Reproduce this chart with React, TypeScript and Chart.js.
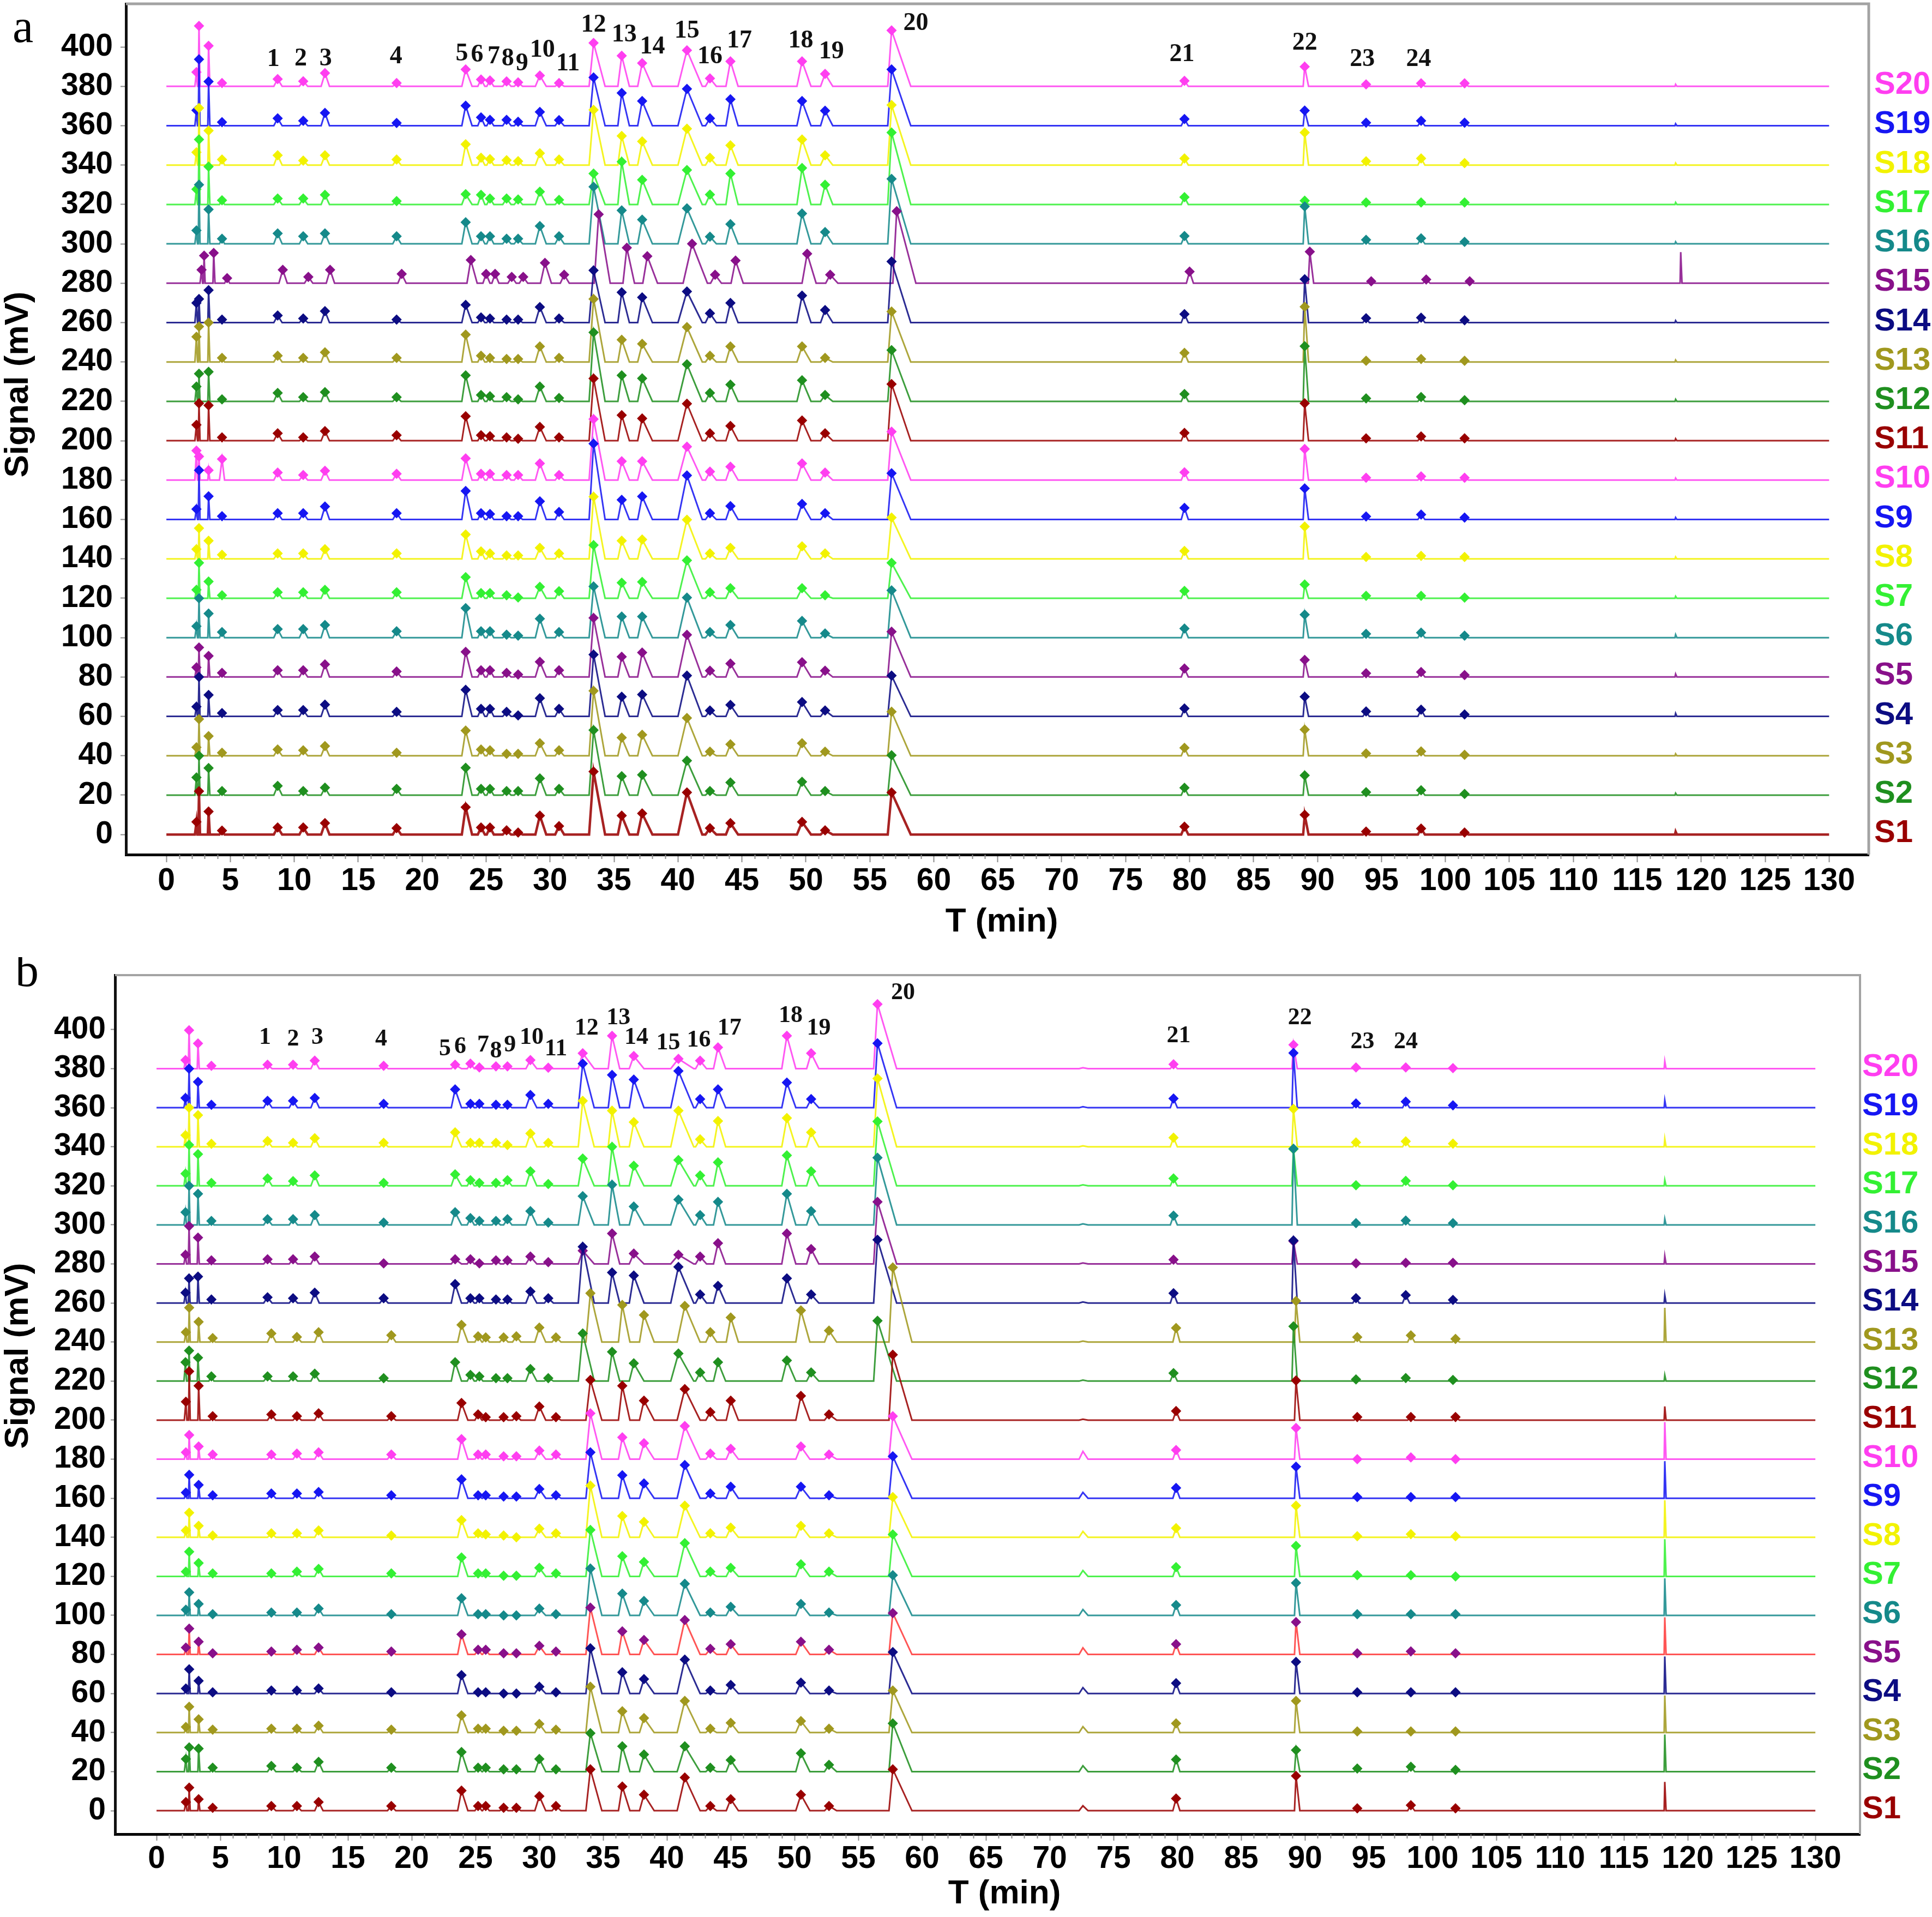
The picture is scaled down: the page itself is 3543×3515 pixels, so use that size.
import React, { useEffect, useRef } from "react";
import { Chart, registerables } from "chart.js";

Chart.register(...registerables);

// ---------------- shared labels / ticks ----------------
const SERIES_NAMES = ["S1", "S2", "S3", "S4", "S5", "S6", "S7", "S8", "S9", "S10", "S11", "S12", "S13", "S14", "S15", "S16", "S17", "S18", "S19", "S20"];
const BASE_OFFSETS = [0, 20, 40, 60, 80, 100, 120, 140, 160, 180, 200, 220, 240, 260, 280, 300, 320, 340, 360, 380];
const PEAK_NAMES = ["1", "2", "3", "4", "5", "6", "7", "8", "9", "10", "11", "12", "13", "14", "15", "16", "17", "18", "19", "20", "21", "22", "23", "24"];
const X_TICKS = [0, 5, 10, 15, 20, 25, 30, 35, 40, 45, 50, 55, 60, 65, 70, 75, 80, 85, 90, 95, 100, 105, 110, 115, 120, 125, 130];
const Y_TICKS = [0, 20, 40, 60, 80, 100, 120, 140, 160, 180, 200, 220, 240, 260, 280, 300, 320, 340, 360, 380, 400];

// ---------------- panel a : peaks (min) ----------------
// order: 4 early peaks, peaks 1..24, extra peak ~101.5, spike ~118
const peakTimesA = [2.35, 2.55, 3.3, 4.35, 8.7, 10.7, 12.4, 18.0, 23.4, 24.6, 25.3, 26.6, 27.5, 29.2, 30.7, 33.4, 35.6, 37.2, 40.7, 42.5, 44.1, 49.7, 51.5, 56.7, 79.6, 89.0, 93.8, 98.1, 101.5, 118.0];
const peakLeftA = [0.12, 0.06, 0.06, 0.2, 0.3, 0.3, 0.3, 0.3, 0.3, 0.25, 0.25, 0.3, 0.3, 0.35, 0.3, 0.35, 0.3, 0.35, 0.7, 0.35, 0.35, 0.4, 0.35, 0.3, 0.25, 0.12, 0.25, 0.25, 0.25, 0.05];
const peakRightA = [0.08, 0.08, 0.1, 0.2, 0.35, 0.35, 0.35, 0.35, 0.5, 0.3, 0.3, 0.35, 0.35, 0.5, 0.4, 0.9, 0.6, 0.8, 1.2, 0.5, 0.6, 0.7, 0.6, 1.5, 0.3, 0.3, 0.25, 0.3, 0.3, 0.1];
const peakMarkedA = [1, 1, 1, 1, 1, 1, 1, 1, 1, 1, 1, 1, 1, 1, 1, 1, 1, 1, 1, 1, 1, 1, 1, 1, 1, 1, 1, 1, 1, 0];
const seriesShiftA = [0, 0, 0, 0, 0, 0, 0, 0, 0, 0, 0, 0, 0, 0, 0.4, 0, 0, 0, 0, 0];

// heights (mV above each trace's baseline)
const hA_S1 = [6.4, 22, 11.7, 2, 3.6, 3.6, 5.8, 3.2, 13.9, 3.6, 3.6, 2.1, 1, 9.6, 4.3, 32, 9.6, 10.7, 21.4, 3.2, 5.8, 6.4, 2.1, 21.4, 4, 10, 1.5, 3, 1, 1.5];
const hA_S2 = [9, 20, 13.8, 2.1, 4.7, 2.1, 3.8, 3.2, 13.9, 3.2, 3.2, 2.1, 2.1, 8.5, 3.2, 33, 9.6, 10.3, 17.5, 2.1, 6.4, 6.8, 2.1, 20.3, 3.7, 10, 1.5, 2.5, 0.6, 1];
const hA_S3 = [4.3, 18.6, 10, 1.5, 3.2, 2.8, 4.9, 1.5, 12.8, 3.2, 2.8, 1, 1, 6.4, 2.8, 33, 9.2, 10.7, 19.2, 2.1, 5.8, 6.4, 2.1, 22.4, 4, 13.3, 1.2, 2.2, 0.5, 1];
const hA_S4 = [4.9, 20, 10.9, 1.7, 3.2, 3.2, 6, 2.3, 13.5, 3.8, 3.8, 2.3, 0.5, 9.2, 3.8, 31.4, 10, 11.1, 20.7, 3, 5.8, 7.3, 3, 20.7, 4, 10, 2.5, 3.4, 1, 1.5];
const hA_S5 = [4.9, 15, 10.7, 2.1, 3.4, 3.4, 6.4, 2.8, 12.8, 3.4, 3.4, 2.1, 1.3, 7.7, 3.4, 30, 10.3, 12.4, 21.4, 3.2, 6.8, 7.5, 3.2, 23, 4.3, 8.7, 1.9, 2.5, 1, 1.5];
const hA_S6 = [5.8, 20, 12.2, 2.8, 4.3, 4.3, 6.4, 3.2, 15, 3.2, 3.2, 1.5, 1, 9.6, 2.8, 26, 10.7, 10.7, 20.3, 2.8, 6.4, 8.5, 2.1, 24, 4.6, 11.7, 1.9, 2.5, 1, 1.5];
const hA_S7 = [4.3, 18, 8.5, 1.5, 3, 3, 4.3, 3, 10.7, 2.6, 2.6, 1.5, 0.4, 5.8, 3.6, 27, 7.9, 8.3, 19.2, 3, 5.1, 5.1, 1.5, 18, 3.7, 7, 1.2, 1.2, 0.3, 1];
const hA_S8 = [4.9, 15.6, 9.2, 2.1, 2.8, 2.8, 4.9, 2.8, 12.4, 3.8, 2.8, 1.7, 1.7, 5.6, 2.8, 31.6, 9.2, 9.8, 19.9, 2.8, 5.6, 6.4, 2.8, 21, 4, 16.4, 1, 1.5, 1, 1];
const hA_S9 = [5.3, 25, 11.8, 1.7, 3.2, 3.2, 6.6, 3.2, 14.5, 3.2, 2.8, 1.7, 1.7, 9.2, 3.8, 38.5, 10, 11.7, 22.4, 3.2, 6.8, 7.9, 3.2, 23.5, 5.9, 15.8, 1.5, 2.5, 1, 1];
const hA_S10 = [15, 12, 5, 10.7, 3.8, 2.6, 4.7, 3.2, 11, 3.2, 3.2, 2.6, 2.6, 8.5, 2.6, 31, 9.6, 9.6, 17, 4.3, 6.8, 8.5, 3.8, 24.6, 4, 15.8, 1.2, 1.9, 1.2, 1];
const hA_S11 = [8.1, 19, 18, 1.7, 3.8, 1.7, 4.9, 2.8, 12.4, 2.8, 2.3, 1.7, 1, 7, 1.7, 31.6, 13, 11.3, 18.8, 3.8, 7.5, 10.3, 3.8, 28.8, 4, 19, 1.2, 2.2, 1.2, 1];
const hA_S12 = [7.5, 14, 15, 1, 4.3, 2.1, 4.7, 2.1, 13.2, 3.2, 2.6, 2.1, 1, 7.5, 1.7, 35, 13.2, 11.7, 18.8, 4.3, 8.5, 10.7, 3.2, 26, 3.7, 28, 1.5, 2.2, 0.6, 1];
const hA_S13 = [12.8, 18, 20, 2.1, 3.2, 2.1, 4.9, 2.1, 13.9, 3.2, 2.1, 1.5, 1.5, 7.9, 2.1, 32, 11.3, 9.2, 17.7, 3.2, 7.9, 7.9, 2.1, 25.6, 4.6, 28, 0.6, 1.5, 0.6, 1];
const hA_S14 = [10, 12, 16.5, 1.5, 3.6, 2.1, 5.8, 1.5, 9, 2.6, 2.1, 1.5, 1.5, 7.9, 2.1, 26.5, 15.4, 12.8, 15.8, 4.7, 10, 13.7, 6.4, 31, 4.3, 22, 2.2, 2.5, 1.2, 1];
const hA_S15 = [6.8, 14, 15.4, 2.6, 6.8, 3.2, 6.8, 4.7, 11.8, 4.7, 4.7, 3.2, 3.2, 10.3, 4.3, 35, 18, 13.7, 20, 4.3, 11.5, 15, 4.3, 36.6, 5.9, 16, 1, 1.9, 1, 15.8];
const hA_S16 = [6.8, 30, 17.5, 2.6, 5.3, 3.8, 5.3, 3.8, 11, 3.8, 3.8, 2.6, 2.6, 9, 3.8, 29, 17, 12.3, 18, 3.6, 10, 15.4, 6, 33, 4, 19, 2, 2.8, 1, 1];
const hA_S17 = [7.7, 33, 19.2, 2.1, 3, 3, 4.9, 1.7, 5.2, 4.9, 3, 3, 2.5, 6.5, 2.3, 15.7, 21.7, 12.5, 17.5, 5, 15.7, 18.5, 10, 36.5, 3.7, 1.9, 1, 1, 1, 1];
const hA_S18 = [6.5, 29, 17.5, 2.8, 5, 2.3, 5, 2.8, 10.6, 3.7, 3, 2.5, 2, 6, 2.8, 28, 14.8, 12, 18.5, 3.7, 10, 13, 5, 30.5, 3.4, 16.5, 1.9, 3.4, 1, 1];
const hA_S19 = [7.8, 33.7, 22.4, 1.8, 3.7, 2.5, 6.5, 1.4, 10.2, 4.2, 3, 3, 2, 7, 2.8, 24.5, 16.6, 12.5, 18.7, 3.7, 13.4, 12.5, 7.6, 28.6, 3.4, 7.7, 1.5, 2.5, 1.5, 1];
const hA_S20 = [7.2, 30.7, 20.6, 1.7, 3.7, 2.6, 6.7, 1.7, 8.6, 3.5, 3, 2.5, 2, 5.5, 1.7, 22, 15.5, 11.8, 18.3, 4, 12.7, 12.7, 6.3, 28.4, 2.8, 10, 1, 1.5, 1.5, 1];

const labelTimeA = [8.36, 10.5, 12.45, 17.95, 23.1, 24.3, 25.6, 26.7, 27.8, 29.4, 31.4, 33.4, 35.8, 38.0, 40.7, 42.5, 44.8, 49.6, 52.0, 58.6, 79.4, 89.0, 93.5, 97.9];
const labelLevelA = [393.5, 394, 394, 395, 396.4, 395.8, 395.1, 393.8, 391.3, 398.2, 391.4, 411, 406, 400, 408, 395, 403, 403, 397.5, 412, 396, 402, 393.6, 393.6];

// ---------------- panel b : peaks (min) ----------------
// order: 4 early peaks, peaks 1..20, bump ~72.6, peaks 21..24, extra ~101.6, spike ~118.2
const peakTimesBUpper = [2.27, 2.55, 3.25, 4.3, 8.7, 10.7, 12.4, 17.8, 23.4, 24.6, 25.3, 26.6, 27.5, 29.3, 30.7, 33.4, 35.7, 37.4, 40.9, 42.6, 44.0, 49.4, 51.3, 56.5, 72.6, 79.7, 89.1, 94.0, 97.9, 101.6, 118.2];
const peakTimesBLower = [2.3, 2.56, 3.3, 4.4, 9.0, 11.0, 12.7, 18.4, 23.9, 25.2, 25.8, 27.2, 28.2, 30.0, 31.3, 34.0, 36.5, 38.2, 41.4, 43.4, 45.0, 50.5, 52.7, 57.7, 72.6, 79.9, 89.3, 94.1, 98.3, 101.8, 118.2];
const seriesGroupB = [0, 0, 0, 0, 0, 0, 0, 0, 0, 0, 0, 1, 0, 1, 1, 1, 1, 1, 1, 1];
const peakLeftB = [0.12, 0.06, 0.06, 0.2, 0.3, 0.3, 0.3, 0.3, 0.3, 0.25, 0.25, 0.3, 0.3, 0.35, 0.3, 0.35, 0.3, 0.35, 0.6, 0.35, 0.35, 0.4, 0.35, 0.3, 0.3, 0.25, 0.12, 0.25, 0.25, 0.25, 0.05];
const peakRightB = [0.08, 0.08, 0.1, 0.2, 0.35, 0.35, 0.35, 0.35, 0.5, 0.3, 0.28, 0.35, 0.35, 0.5, 0.4, 0.9, 0.6, 0.8, 1.2, 0.5, 0.6, 0.7, 0.6, 1.5, 0.4, 0.3, 0.3, 0.25, 0.3, 0.3, 0.1];
const peakMarkedB = [1, 1, 1, 1, 1, 1, 1, 1, 1, 1, 1, 1, 1, 1, 1, 1, 1, 1, 1, 1, 1, 1, 1, 1, 0, 1, 1, 1, 1, 1, 0];

const hB_S1 = [4.4, 11.8, 5.9, 1.5, 2.4, 2.4, 4.4, 2.4, 10.3, 2.4, 2.4, 1.5, 1.5, 7.4, 2.4, 21.2, 12.4, 8.2, 17, 2.4, 5.9, 8.2, 2.4, 21.2, 2.5, 6.2, 17.8, 1.2, 2.8, 1.2, 14.7];
const hB_S2 = [6.5, 12.4, 11.8, 2, 2.9, 2, 5, 2, 10, 2, 2, 1.2, 1.2, 6.5, 1.2, 19.7, 13, 8.8, 13, 2, 5.9, 9.4, 3.5, 24.7, 3, 6.2, 11, 1.6, 2.5, 0.9, 19];
const hB_S3 = [2.9, 13.2, 6.8, 1.5, 2, 2, 3.5, 1.5, 8.8, 2, 2, 0.9, 0.9, 4.4, 1.5, 23.5, 10.9, 7.4, 16.2, 2, 5, 5.9, 2, 21.5, 3, 4.7, 16.2, 0.6, 0.6, 0.6, 19];
const hB_S4 = [2.6, 12.4, 6.5, 0.6, 1.5, 1.5, 2.6, 0.6, 9.4, 0.6, 0.6, 0, 0, 3.5, 0.6, 23.2, 10.9, 7.4, 17.4, 1.5, 4.4, 5.6, 1.5, 21.2, 3, 5.3, 16.2, 0.6, 0.6, 0.6, 19];
const hB_S5 = [3.5, 13.2, 6.5, 0.6, 1.5, 2.4, 3.5, 1.5, 10.3, 2.4, 2.4, 0.6, 0.6, 4.4, 1.5, 24, 11.8, 7.4, 17.6, 2.9, 5.3, 6.5, 2.4, 21.2, 3.4, 5.3, 16.6, 0.6, 1.6, 0.6, 19];
const hB_S6 = [2.9, 11.8, 5.9, 0.6, 1.5, 1.5, 3.5, 0.6, 8.8, 0.6, 0.6, 0, 0, 3.5, 0.6, 24, 11.2, 7.4, 16.2, 1.5, 4.4, 5.9, 1.5, 20.6, 3, 5.3, 16.6, 0.6, 0.6, 0.6, 19];
const hB_S7 = [2.4, 12.6, 6.8, 1.5, 1.5, 2.4, 3.8, 1.5, 9.7, 1.5, 1.5, 0.3, 0.3, 4.4, 1.5, 23.8, 10.3, 7.4, 17, 2.4, 4.4, 6.2, 2.4, 21.5, 3, 4.7, 15.6, 0.6, 0.6, 0, 19];
const hB_S8 = [3.5, 12.6, 5.9, 0.9, 2, 2, 3.5, 0.9, 8.8, 2, 1.5, 0.9, 0, 4.4, 2, 26.5, 10.9, 7.9, 16.2, 2, 5, 5.9, 2, 20.6, 3, 4.7, 16.2, 0.6, 1.6, 0.6, 19];
const hB_S9 = [2.9, 12, 6.8, 1.5, 2.4, 2.4, 3.2, 1.5, 9.7, 1.5, 1.5, 0.9, 0.9, 4.7, 1.5, 23.5, 11.8, 7.6, 17, 2.4, 5.9, 5.9, 1.5, 21.5, 3, 5.3, 16.2, 0.6, 0.6, 0.6, 19];
const hB_S10 = [3.5, 12.4, 6.5, 2.4, 2.4, 2.9, 3.5, 2.4, 10.3, 2.4, 2.4, 1.5, 1.5, 4.4, 2.4, 23.5, 11.2, 8.2, 17, 2.9, 5.3, 6.5, 2.4, 22, 4, 4.7, 16, 0, 0.9, 0, 19];
const hB_S11 = [9.4, 25, 17.6, 2, 2.9, 2, 3.5, 2, 8.8, 2.9, 1.5, 1.5, 2, 7, 1.5, 20.6, 17.6, 10, 15.9, 4.1, 10, 12.4, 2.9, 33.5, 0.5, 4.7, 20.3, 1.6, 1.6, 1.6, 7];
const hB_S12 = [9.7, 15.6, 12, 2.4, 2.4, 2.4, 3.8, 1.5, 9.7, 3.2, 2.4, 1.5, 1.5, 6.2, 1.5, 24.4, 15, 9.1, 14.1, 4.4, 9.7, 10.6, 4.4, 30.9, 0.5, 4.1, 28, 0.9, 1.6, 0.6, 3];
const hB_S13 = [5, 17.6, 10.3, 2, 4.4, 2.6, 5, 3.5, 8.8, 2.9, 2.4, 2.4, 2.9, 7.4, 2.4, 25, 19, 13.8, 18.5, 5, 12.6, 16.2, 5.9, 38.2, 0.5, 7.2, 21, 2.5, 3.4, 1.6, 17.5];
const hB_S14 = [5.3, 12.6, 13.5, 1.8, 2.9, 2.4, 5.3, 2.4, 9.7, 2.4, 2.4, 1.8, 1.8, 5.9, 2.4, 28.8, 15.6, 14.1, 18.5, 4.4, 8.8, 12.6, 4.4, 32.4, 0.5, 5, 32, 2.5, 4, 1.6, 4];
const hB_S15 = [4.7, 19.4, 13.5, 1.8, 2.4, 2.4, 3.8, 0.3, 2.4, 2.4, 0.3, 1.8, 1.8, 3.8, 0.9, 6.8, 15.6, 5.3, 4.7, 3.8, 10.6, 15.6, 7.6, 31.8, 0.5, 2.2, 11.6, 0.3, 0.6, 0.6, 4];
const hB_S16 = [6.5, 20, 15.9, 2, 2.9, 2.9, 5, 1.2, 6.5, 3.5, 2, 2, 2.9, 7, 1.2, 14.7, 20.6, 9.4, 13, 5, 11.8, 15.9, 7, 34.4, 0.5, 4.7, 39, 0.9, 2.2, 0.9, 3];
const hB_S17 = [6.2, 21, 16.2, 1.5, 3.8, 2.4, 5.3, 1.5, 5.9, 2.9, 1.5, 1.5, 2.9, 7.4, 0.9, 14, 20, 10.3, 13.2, 5.3, 12, 15.6, 7.4, 33, 0.5, 3.8, 18.8, 0.3, 2.5, 0.3, 3];
const hB_S18 = [5.9, 20, 16.2, 1.5, 2.9, 2, 4.4, 2, 7.4, 2, 2, 2, 0.9, 6.8, 2, 23.5, 18.5, 12.6, 18.5, 3.8, 13.2, 14.7, 7.4, 35, 0.5, 4.7, 19.4, 2.2, 2.8, 1.6, 4];
const hB_S19 = [5, 20, 13.2, 1.5, 3.5, 3.5, 5, 2, 9.4, 2, 2, 1.5, 1.5, 6.5, 2, 22.6, 16.8, 14.4, 18.8, 4.4, 9.4, 12.9, 4.4, 33, 0.5, 4.7, 28, 2.2, 3.1, 1.2, 3.8];
const hB_S20 = [4.4, 19.7, 12.9, 1.5, 2, 2, 4.1, 1.5, 2, 2.6, 0.6, 1.2, 1.2, 4.4, 0.5, 7.9, 16.8, 6.5, 5, 4.1, 10.9, 16.8, 7.9, 33, 0.5, 2.2, 12.2, 0.6, 0.6, 0.3, 3.8];

const labelTimeB = [8.5, 10.7, 12.6, 17.6, 22.6, 23.8, 25.6, 26.6, 27.7, 29.4, 31.3, 33.7, 36.2, 37.6, 40.1, 42.5, 44.9, 49.7, 51.9, 58.5, 80.1, 89.6, 94.5, 97.9];
const labelLevelB = [396, 395, 396, 395, 390, 391, 392, 389, 392, 396, 390, 400.6, 406, 396, 393, 394.6, 400.6, 407, 400.6, 418.7, 396.6, 406, 393.6, 393.6];

// ---------------- styles ----------------
const PALETTE = ["#990000", "#1F8F1F", "#A0981E", "#0C0C82", "#88108A", "#15898A", "#33F033", "#F2F200", "#1616F2", "#FF3EF0"];
const MARKER_COLORS = PALETTE.concat(PALETTE);
const LINE_COLORS_A = MARKER_COLORS.map((c) => c + "DD");
const LINE_COLORS_B = MARKER_COLORS.map((c, i) => (i === 4 ? "#FF3B3BDD" : c + "DD"));

const HEIGHTS_A = [hA_S1, hA_S2, hA_S3, hA_S4, hA_S5, hA_S6, hA_S7, hA_S8, hA_S9, hA_S10, hA_S11, hA_S12, hA_S13, hA_S14, hA_S15, hA_S16, hA_S17, hA_S18, hA_S19, hA_S20];
const HEIGHTS_B = [hB_S1, hB_S2, hB_S3, hB_S4, hB_S5, hB_S6, hB_S7, hB_S8, hB_S9, hB_S10, hB_S11, hB_S12, hB_S13, hB_S14, hB_S15, hB_S16, hB_S17, hB_S18, hB_S19, hB_S20];

const SANS = '"Liberation Sans", Arial, sans-serif';
const SERIF = '"Liberation Serif", "Times New Roman", serif';

type Pt = { x: number; y: number; m: number };

function buildTrace(times: number[], wl: number[], wr: number[], marks: number[], heights: number[], base: number, shift: number): Pt[] {
  const n = times.length;
  const apex = times.map((t) => t + shift);
  const L = apex.map((t, i) => t - wl[i]);
  const R = apex.map((t, i) => t + wr[i]);
  for (let i = 0; i < n - 1; i++) {
    if (R[i] > L[i + 1]) {
      let m = (R[i] + L[i + 1]) / 2;
      m = Math.min(Math.max(m, apex[i] + 0.01), apex[i + 1] - 0.01);
      R[i] = m;
      L[i + 1] = m;
    }
  }
  const pts: Pt[] = [{ x: 0, y: base, m: 0 }];
  for (let i = 0; i < n; i++) {
    pts.push({ x: L[i], y: base, m: 0 });
    pts.push({ x: apex[i], y: base + heights[i], m: marks[i] });
    pts.push({ x: R[i], y: base, m: 0 });
  }
  pts.push({ x: 130, y: base, m: 0 });
  return pts;
}

type Spec = {
  letter: string;
  canvasH: number;
  heights: number[][];
  timesFor: (s: number) => number[];
  shifts: number[];
  wl: number[];
  wr: number[];
  marks: number[];
  lineColors: string[];
  labelT: number[];
  labelV: number[];
  xMin: number; xMax: number; yMin: number; yMax: number;
  padding: { left: number; top: number; right: number; bottom: number };
  yAxisW: number; xAxisH: number;
  yTickLen: number; yTickPad: number; xTickLen: number; xTickPad: number;
  frameW: number;
  legendX: number;
  peakFont: number;
  yTitle: [number, number];
  xTitle: [number, number];
  letterPos: [number, number];
  s1Width: number;
};

function decorPlugin(spec: Spec) {
  return {
    id: "decor" + spec.letter,
    afterDraw(chart: any) {
      const { ctx, chartArea: ca, scales } = chart;
      const x = scales.x;
      const y = scales.y;
      ctx.save();
      // gray frame (top + right)
      ctx.strokeStyle = "#a3a3a3";
      ctx.lineWidth = spec.frameW;
      ctx.beginPath();
      ctx.moveTo(ca.left, ca.top);
      ctx.lineTo(ca.right, ca.top);
      ctx.lineTo(ca.right, ca.bottom);
      ctx.stroke();
      // minor x ticks
      ctx.strokeStyle = "#8c8c8c";
      ctx.lineWidth = 2;
      for (let i = 0; i < X_TICKS.length - 1; i++) {
        const a = X_TICKS[i];
        const step = (X_TICKS[i + 1] - a) / 5;
        for (let k = 1; k < 5; k++) {
          const px = Math.round(x.getPixelForValue(a + k * step)) + 0.5;
          ctx.beginPath();
          ctx.moveTo(px, ca.bottom);
          ctx.lineTo(px, ca.bottom + 8);
          ctx.stroke();
        }
      }
      // peak numbers
      ctx.fillStyle = "#111";
      ctx.font = `bold ${spec.peakFont}px ${SERIF}`;
      ctx.textAlign = "center";
      ctx.textBaseline = "middle";
      PEAK_NAMES.forEach((name, i) => {
        ctx.fillText(name, x.getPixelForValue(spec.labelT[i]), y.getPixelForValue(spec.labelV[i]));
      });
      // series names on the right
      ctx.font = `bold 58px ${SANS}`;
      ctx.textAlign = "left";
      SERIES_NAMES.forEach((name, i) => {
        ctx.fillStyle = MARKER_COLORS[i];
        ctx.fillText(name, spec.legendX, y.getPixelForValue(BASE_OFFSETS[i]) - 2);
      });
      // axis titles
      ctx.fillStyle = "#000";
      ctx.font = `bold 62px ${SANS}`;
      ctx.textAlign = "center";
      ctx.textBaseline = "middle";
      ctx.fillText("T (min)", spec.xTitle[0], spec.xTitle[1]);
      ctx.save();
      ctx.translate(spec.yTitle[0], spec.yTitle[1]);
      ctx.rotate(-Math.PI / 2);
      ctx.fillText("Signal (mV)", 0, 0);
      ctx.restore();
      // panel letter
      ctx.font = `86px ${SERIF}`;
      ctx.textAlign = "left";
      ctx.textBaseline = "alphabetic";
      ctx.fillText(spec.letter, spec.letterPos[0], spec.letterPos[1]);
      ctx.restore();
    },
  };
}

function Panel({ spec }: { spec: Spec }) {
  const ref = useRef<HTMLCanvasElement | null>(null);
  useEffect(() => {
    const canvas = ref.current;
    if (!canvas) return;
    const datasets = spec.heights.map((h, s) => ({
      label: SERIES_NAMES[s],
      data: buildTrace(spec.timesFor(s), spec.wl, spec.wr, spec.marks, h, BASE_OFFSETS[s], spec.shifts[s]),
      borderColor: spec.lineColors[s],
      borderWidth: s === 0 ? spec.s1Width : 3,
      pointStyle: "rectRot",
      pointRadius: (c: any) => (c.raw && c.raw.m ? 9.5 : 0),
      pointBackgroundColor: MARKER_COLORS[s],
      pointBorderWidth: 0,
      pointHoverRadius: 0,
      tension: 0,
      fill: false,
    }));
    const tickFont = { family: SANS, size: 57, weight: "bold" as const };
    const chart = new Chart(canvas, {
      type: "line",
      data: { datasets: datasets as any },
      options: {
        animation: false,
        responsive: false,
        maintainAspectRatio: false,
        events: [],
        layout: { padding: spec.padding },
        plugins: { legend: { display: false }, tooltip: { enabled: false }, title: { display: false } },
        scales: {
          x: {
            type: "linear",
            position: "bottom",
            min: spec.xMin,
            max: spec.xMax,
            afterFit: (sc: any) => {
              sc.height = spec.xAxisH;
              sc.paddingLeft = 0;
              sc.paddingRight = 0;
              sc.paddingTop = 0;
              sc.paddingBottom = 0;
            },
            afterBuildTicks: (sc: any) => { sc.ticks = X_TICKS.map((v) => ({ value: v })); },
            ticks: { font: tickFont, color: "#000", padding: spec.xTickPad, autoSkip: false, maxRotation: 0, minRotation: 0, callback: (v: any) => String(v) },
            grid: { display: true, drawOnChartArea: false, drawTicks: true, tickLength: spec.xTickLen, tickColor: "#8c8c8c", tickWidth: 2 },
            border: { display: true, color: "#000", width: 5 },
          },
          y: {
            type: "linear",
            position: "left",
            min: spec.yMin,
            max: spec.yMax,
            afterFit: (sc: any) => {
              sc.width = spec.yAxisW;
              sc.paddingLeft = 0;
              sc.paddingRight = 0;
              sc.paddingTop = 0;
              sc.paddingBottom = 0;
            },
            afterBuildTicks: (sc: any) => { sc.ticks = Y_TICKS.map((v) => ({ value: v })); },
            ticks: { font: tickFont, color: "#000", padding: spec.yTickPad, autoSkip: false, callback: (v: any) => String(v) },
            grid: { display: true, drawOnChartArea: false, drawTicks: true, tickLength: spec.yTickLen, tickColor: "#8c8c8c", tickWidth: 2 },
            border: { display: true, color: "#111", width: 5 },
          },
        },
      } as any,
      plugins: [decorPlugin(spec)],
    });
    return () => chart.destroy();
  }, [spec]);
  return <canvas ref={ref} width={3543} height={spec.canvasH} style={{ display: "block", width: "3543px", height: spec.canvasH + "px" }} />;
}

const SPEC_A: Spec = {
  letter: "a",
  canvasH: 1755,
  heights: HEIGHTS_A,
  timesFor: () => peakTimesA,
  shifts: seriesShiftA,
  wl: peakLeftA,
  wr: peakRightA,
  marks: peakMarkedA,
  lineColors: LINE_COLORS_A,
  labelT: labelTimeA,
  labelV: labelLevelA,
  xMin: -3.16, xMax: 133.1, yMin: -10.2, yMax: 421.9,
  padding: { left: 0, top: 7, right: 116, bottom: 27 },
  yAxisW: 231, xAxisH: 161,
  yTickLen: 10, yTickPad: 14, xTickLen: 14, xTickPad: 1,
  frameW: 5,
  legendX: 3437,
  peakFont: 46,
  yTitle: [34, 705],
  xTitle: [1837, 1691],
  letterPos: [23, 77],
  s1Width: 4.5,
};

const SPEC_B: Spec = {
  letter: "b",
  canvasH: 1760,
  heights: HEIGHTS_B,
  timesFor: (s: number) => (seriesGroupB[s] ? peakTimesBUpper : peakTimesBLower),
  shifts: [0, 0, 0, 0, 0, 0, 0, 0, 0, 0, 0, 0, 0, 0, 0, 0, 0, 0, 0, 0],
  wl: peakLeftB,
  wr: peakRightB,
  marks: peakMarkedB,
  lineColors: LINE_COLORS_B,
  labelT: labelTimeB,
  labelV: labelLevelB,
  xMin: -3.25, xMax: 133.5, yMin: -12.0, yMax: 427.9,
  padding: { left: 0, top: 33, right: 132, bottom: 5 },
  yAxisW: 211, xAxisH: 147,
  yTickLen: 8, yTickPad: 9, xTickLen: 12, xTickPad: 0,
  frameW: 4,
  legendX: 3415,
  peakFont: 44,
  yTitle: [34, 731],
  xTitle: [1842, 1718],
  letterPos: [28, 53],
  s1Width: 3,
};

export default function App() {
  useEffect(() => {
    document.body.style.margin = "0";
    document.body.style.background = "#fff";
  }, []);
  return (
    <div style={{ position: "relative", width: 3543, height: 3515, background: "#fff" }}>
      <div style={{ position: "absolute", left: 0, top: 0 }}>
        <Panel spec={SPEC_A} />
      </div>
      <div style={{ position: "absolute", left: 0, top: 1755 }}>
        <Panel spec={SPEC_B} />
      </div>
    </div>
  );
}
